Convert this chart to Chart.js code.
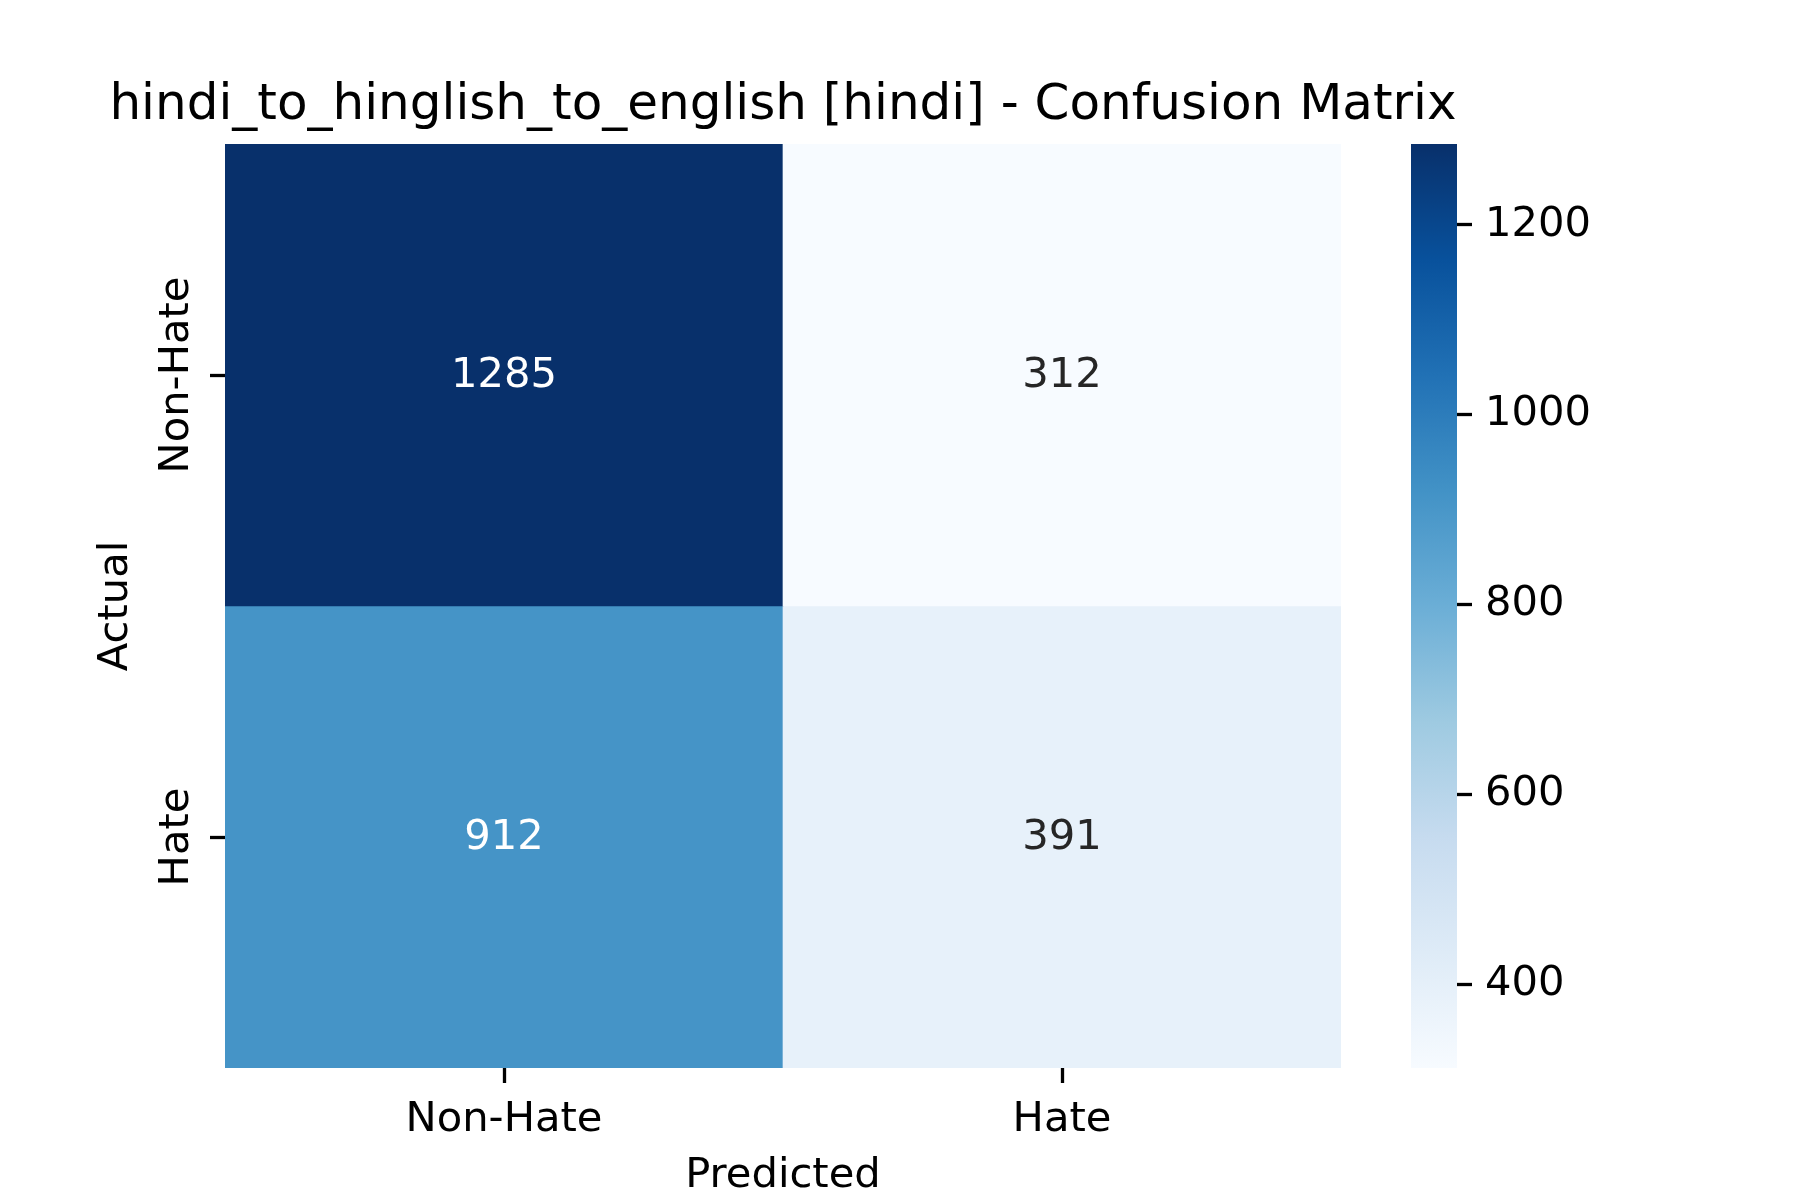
<!DOCTYPE html>
<html>
<head>
<meta charset="utf-8">
<script src="https://cdn.jsdelivr.net/npm/chart.js@4.4.0/dist/chart.umd.min.js"></script>
<style>
  html, body { margin: 0; padding: 0; background: #fff; overflow: hidden; }
  #wrap { position: relative; width: 1800px; height: 1200px; }
  #main { position: absolute; left: 0; top: 0; }
  #cbar { position: absolute; left: 1411px; top: 0; }
</style>
</head>
<body>
<div id="wrap">
  <canvas id="main" width="1566" height="1200"></canvas>
  <canvas id="cbar" width="389" height="1200"></canvas>
</div>
<script>
// data
var predictedLabels = ['Non-Hate', 'Hate'];
var actualLabels = ['Non-Hate', 'Hate'];
var rowNonHate = [1285, 312];
var rowHate = [912, 391];
var colorbarTicks = [400, 600, 800, 1000, 1200];
var titleText = 'hindi_to_hinglish_to_english [hindi] - Confusion Matrix';

var FONT = 'DejaVu Sans';
var TICK_PX = 41.67;

var allVals = rowNonHate.concat(rowHate);
var vmin = Math.min.apply(null, allVals);
var vmax = Math.max.apply(null, allVals);

// matplotlib "Blues"
var blues = ['#f7fbff', '#deebf7', '#c6dbef', '#9ecae1', '#6baed6',
             '#4292c6', '#2171b5', '#08519c', '#08306b'];

function hexRgb(h) {
    return [parseInt(h.substr(1, 2), 16), parseInt(h.substr(3, 2), 16), parseInt(h.substr(5, 2), 16)];
}
function bluesRgb(t) {
    t = Math.max(0, Math.min(1, t));
    var pos = t * (blues.length - 1);
    var i = Math.min(Math.floor(pos), blues.length - 2);
    var f = pos - i;
    var a = hexRgb(blues[i]), b = hexRgb(blues[i + 1]);
    return [0, 1, 2].map(function (k) { return Math.round(a[k] + (b[k] - a[k]) * f); });
}
function cellColor(v) {
    var c = bluesRgb((v - vmin) / (vmax - vmin));
    return 'rgb(' + c.join(',') + ')';
}
function textColor(v) {
    var c = bluesRgb((v - vmin) / (vmax - vmin)).map(function (x) {
        x /= 255;
        return x <= 0.03928 ? x / 12.92 : Math.pow((x + 0.055) / 1.055, 2.4);
    });
    var lum = 0.2126 * c[0] + 0.7152 * c[1] + 0.0722 * c[2];
    return lum > 0.408 ? '#262626' : '#ffffff';
}

// padding so rotated y labels sit centred at the right spot
var mctx = document.createElement('canvas').getContext('2d');
mctx.font = TICK_PX + 'px "' + FONT + '"';
var widest = Math.max.apply(null, actualLabels.map(function (s) { return mctx.measureText(s).width; }));
var yTickPad = 32.7 - widest / 2;

var annotate = {
    id: 'annotate',
    afterDatasetsDraw: function (chart) {
        var ctx = chart.ctx;
        ctx.save();
        ctx.font = TICK_PX + 'px "' + FONT + '"';
        ctx.textAlign = 'center';
        ctx.textBaseline = 'middle';
        chart.data.datasets.forEach(function (ds, i) {
            var meta = chart.getDatasetMeta(i);
            meta.data.forEach(function (bar, j) {
                var v = ds.values[j];
                ctx.fillStyle = textColor(v);
                ctx.fillText(String(v), bar.x, (bar.y + bar.base) / 2 + 1.5);
            });
        });
        ctx.restore();
    }
};

var tickGrid = {
    drawOnChartArea: false,
    drawTicks: true,
    tickLength: 15,
    tickWidth: 3.3,
    tickColor: '#000',
    offset: false
};

new Chart(document.getElementById('main'), {
    type: 'bar',
    data: {
        labels: predictedLabels,
        datasets: [
            {
                label: actualLabels[0],
                values: rowNonHate,
                data: rowNonHate.map(function () { return [0, 1]; }),
                backgroundColor: rowNonHate.map(cellColor)
            },
            {
                label: actualLabels[1],
                values: rowHate,
                data: rowHate.map(function () { return [1, 2]; }),
                backgroundColor: rowHate.map(cellColor)
            }
        ]
    },
    options: {
        responsive: false,
        animation: false,
        devicePixelRatio: 1,
        grouped: false,
        barPercentage: 1,
        categoryPercentage: 1,
        borderWidth: 0,
        layout: { padding: { top: 76.5, left: 0, right: 0, bottom: 0 } },
        plugins: {
            legend: { display: false },
            tooltip: { enabled: false },
            title: {
                display: true,
                text: titleText,
                color: '#000',
                font: { family: FONT, size: 50, weight: 'normal', lineHeight: 1.2 },
                padding: { top: 0, bottom: 7.5 }
            }
        },
        scales: {
            x: {
                type: 'category',
                border: { display: false },
                grid: tickGrid,
                ticks: {
                    color: '#000',
                    padding: 12,
                    font: { family: FONT, size: TICK_PX, lineHeight: 1.2 }
                },
                title: {
                    display: true,
                    text: 'Predicted',
                    color: '#000',
                    font: { family: FONT, size: TICK_PX, lineHeight: 1 },
                    padding: { top: 0, bottom: 2.5 }
                },
                afterFit: function (s) { s.height = 132; }
            },
            y: {
                type: 'linear',
                min: 0,
                max: 2,
                reverse: true,
                border: { display: false },
                grid: tickGrid,
                afterBuildTicks: function (s) {
                    s.ticks = actualLabels.map(function (_, i) { return { value: i + 0.5 }; });
                },
                ticks: {
                    color: '#000',
                    minRotation: 90,
                    maxRotation: 90,
                    crossAlign: 'center',
                    padding: yTickPad,
                    font: { family: FONT, size: TICK_PX, lineHeight: 1.2 },
                    callback: function (value, index) { return actualLabels[index]; }
                },
                title: {
                    display: true,
                    text: 'Actual',
                    color: '#000',
                    font: { family: FONT, size: TICK_PX, lineHeight: 1 },
                    padding: { top: 95, bottom: 0 }
                },
                afterFit: function (s) { s.width = 225; }
            },
            // empty right gutter so the title centres over the heatmap
            gutter: {
                type: 'linear',
                position: 'right',
                grid: { display: false },
                border: { display: false },
                ticks: { display: false },
                afterFit: function (s) { s.width = 225; }
            }
        }
    },
    plugins: [annotate]
});

// colorbar
function barGradient(context) {
    var area = context.chart.chartArea;
    if (!area) return blues[0];
    var g = context.chart.ctx.createLinearGradient(0, area.bottom, 0, area.top);
    blues.forEach(function (c, i) { g.addColorStop(i / (blues.length - 1), c); });
    return g;
}

new Chart(document.getElementById('cbar'), {
    type: 'bar',
    data: {
        labels: ['scale'],
        datasets: [{
            data: [[vmin, vmax]],
            backgroundColor: barGradient,
            borderWidth: 0,
            barPercentage: 1,
            categoryPercentage: 1
        }]
    },
    options: {
        responsive: false,
        animation: false,
        devicePixelRatio: 1,
        layout: { padding: { top: 144, bottom: 132, left: 0, right: 0 } },
        plugins: { legend: { display: false }, tooltip: { enabled: false } },
        scales: {
            x: { display: false },
            y: {
                position: 'right',
                min: vmin,
                max: vmax,
                border: { display: false },
                grid: {
                    drawOnChartArea: false,
                    drawTicks: true,
                    tickLength: 15,
                    tickWidth: 3.3,
                    tickColor: '#000'
                },
                afterBuildTicks: function (s) {
                    s.ticks = colorbarTicks.map(function (v) { return { value: v }; });
                },
                ticks: {
                    color: '#000',
                    padding: 13,
                    font: { family: FONT, size: TICK_PX, lineHeight: 1.2 },
                    callback: function (value) { return String(value); }
                },
                afterFit: function (s) { s.width = 389 - 46; }
            }
        }
    }
});
</script>
</body>
</html>
